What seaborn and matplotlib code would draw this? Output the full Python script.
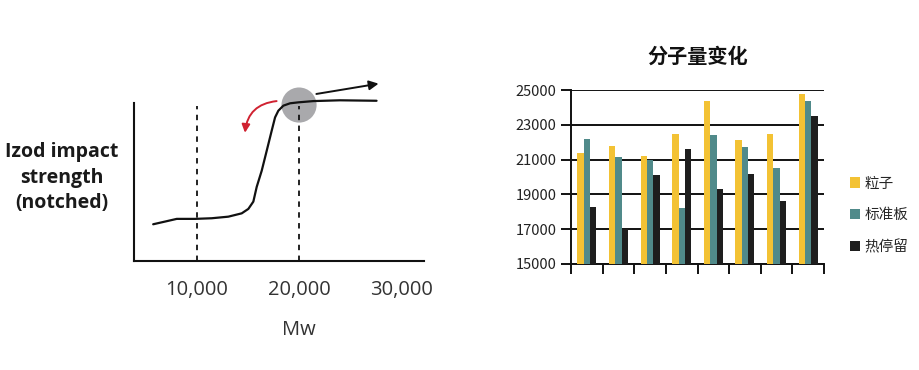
import numpy as np
import pandas as pd
import matplotlib
matplotlib.use("Agg")
import matplotlib.pyplot as plt
import seaborn as sns

# ── Data ─────────────────────────────────────────────────────────────────────
# left: schematic Izod impact strength vs Mw
curve_mw  = [5700, 6860, 8010, 9800, 11440, 13070, 14380, 15030, 15520, 15850,
             16340, 16830, 17320, 17650, 17970, 18460, 19120, 19930, 21400, 24000, 27600]
curve_val = [2.32, 2.49, 2.66, 2.66, 2.70, 2.80, 3.01, 3.29, 3.75, 4.68,
             5.70, 6.96, 8.23, 9.07, 9.49, 9.81, 9.96, 10.02, 10.10, 10.15, 10.12]
mw_ticks  = [10000, 20000, 30000]
mw_labels = ["10,000", "20,000", "30,000"]
marked_mw = [10000, 20000]

# right: molecular weight changes
samples = ["1", "2", "3", "4", "5", "6", "7", "8"]
series  = ["粒子", "标准板", "热停留"]
pellet  = [21400, 21800, 21200, 22500, 24400, 22150, 22500, 24800]
plaque  = [22200, 21150, 21000, 18200, 22400, 21700, 20500, 24350]
hold    = [18300, 17000, 20100, 21600, 19300, 20200, 18650, 23500]
y_ticks = [15000, 17000, 19000, 21000, 23000, 25000]

colors = ["#F3C234", "#508A8A", "#1E1E1E"]

df = pd.DataFrame({
    "sample": samples * 3,
    "series": [series[0]] * 8 + [series[1]] * 8 + [series[2]] * 8,
    "mw": pellet + plaque + hold,
})

sns.set_theme(style="white")
plt.rcParams["font.family"] = ["Noto Sans CJK SC", "DejaVu Sans"]

fig = plt.figure(figsize=(9.2, 3.7), dpi=100)

# ── Left: schematic ─────────────────────────────────────────────────────────
ax1 = fig.add_axes([0.1457, 0.2946, 0.3152, 0.5135])
ax1.set_xlim(3824, 32255)
ax1.set_ylim(0, 12)
sns.lineplot(x=curve_mw, y=curve_val, ax=ax1, color="#111111", lw=1.6, zorder=3,
             solid_joinstyle="round", solid_capstyle="round")
for m in marked_mw:
    ax1.plot([m, m], [0, 9.8], ls=(0, (3, 3)), color="#111111", lw=1.3, zorder=2)
ax1.scatter([20000], [9.85], s=640, color="#A9A9AC", edgecolor="none", zorder=1)
ax1.annotate("", xy=(27800, 11.2), xytext=(21700, 10.55),
             arrowprops=dict(arrowstyle="-|>", color="#111111", lw=1.4,
                             mutation_scale=14, shrinkA=0, shrinkB=0))
ax1.annotate("", xy=(14700, 8.1), xytext=(17800, 10.1),
             arrowprops=dict(arrowstyle="-|>", color="#D02231", lw=1.4,
                             mutation_scale=12, shrinkA=0, shrinkB=0,
                             connectionstyle="arc3,rad=0.4"))
for s in ["top", "right"]:
    ax1.spines[s].set_visible(False)
ax1.spines["left"].set_bounds(0, 10)
for s in ["left", "bottom"]:
    ax1.spines[s].set_color("#111111")
    ax1.spines[s].set_linewidth(1.5)
ax1.set_xticks(mw_ticks)
ax1.set_xticklabels(mw_labels, family="Open Sans", fontsize=14.5, color="#333333")
ax1.set_yticks([])
ax1.tick_params(axis="x", length=0, pad=14)
ax1.set_xlabel("Mw", family="Open Sans", fontsize=14.5, color="#333333")
ax1.xaxis.set_label_coords(0.57, -0.31)
ax1.set_ylabel("")
fig.text(0.067, 0.52, "Izod impact\nstrength\n(notched)", ha="center", va="center",
         family="Open Sans", fontsize=14, fontweight="bold", color="#1a1a1a",
         linespacing=1.38)

# ── Right: bar chart ────────────────────────────────────────────────────────
ax2 = fig.add_axes([0.6207, 0.2865, 0.275, 0.470])
sns.barplot(data=df, x="sample", y="mw", hue="series", hue_order=series,
            palette=colors, width=0.6, ax=ax2, saturation=1, zorder=3,
            linewidth=0, edgecolor="none")
ax2.set_ylim(15000, 25000)
ax2.set_xlim(-0.5, 7.5)
ax2.set_yticks(y_ticks)
ax2.set_yticklabels([str(v) for v in y_ticks], fontsize=10.5, color="#222222")
ax2.set_xticks(np.arange(-0.5, 8, 1))
ax2.set_xticklabels([])
ax2.set_xlabel("")
ax2.set_ylabel("")
ax2.set_axisbelow(True)
ax2.grid(axis="y", color="#111111", lw=1.4)
ax2.tick_params(axis="both", direction="out", length=7, width=1.4, color="#111111",
                bottom=True, left=True)
for s in ["top", "right"]:
    ax2.spines[s].set_visible(False)
for s in ["left", "bottom"]:
    ax2.spines[s].set_color("#111111")
    ax2.spines[s].set_linewidth(1.4)
ax2.set_title("分子量变化", fontsize=14.5, fontweight="bold", pad=20, color="#111111")
sns.move_legend(ax2, "center left", bbox_to_anchor=(1.05, 0.28), frameon=False,
                title=None, fontsize=10.5, handlelength=0.7, handleheight=0.7,
                handletextpad=0.3, labelspacing=1.2)

fig.savefig("out.png", dpi=100)
